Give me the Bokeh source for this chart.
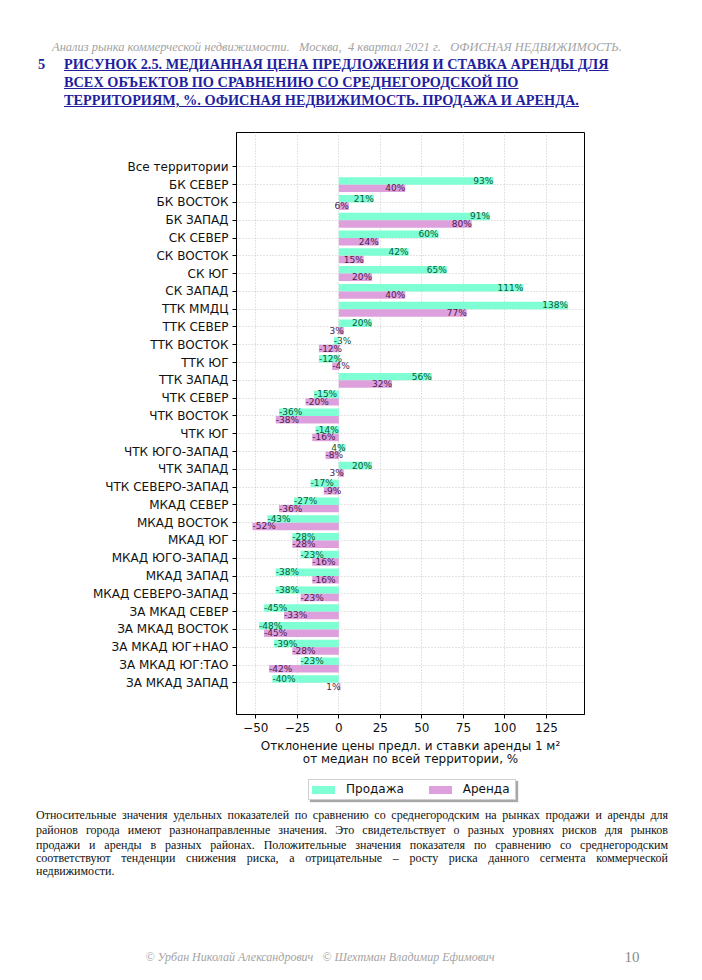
import math
from bokeh.plotting import figure
from bokeh.models import (ColumnDataSource, Range1d, FixedTicker, Div)
from bokeh.layouts import column
from bokeh.transform import dodge
from bokeh.embed import file_html
from bokeh.resources import INLINE
from bokeh.core.properties import value

NaN = float("nan")

categories = [
    "Все территории", "БК СЕВЕР", "БК ВОСТОК", "БК ЗАПАД", "СК СЕВЕР", "СК ВОСТОК",
    "СК ЮГ", "СК ЗАПАД", "ТТК ММДЦ", "ТТК СЕВЕР", "ТТК ВОСТОК", "ТТК ЮГ",
    "ТТК ЗАПАД", "ЧТК СЕВЕР", "ЧТК ВОСТОК", "ЧТК ЮГ", "ЧТК ЮГО-ЗАПАД", "ЧТК ЗАПАД",
    "ЧТК СЕВЕРО-ЗАПАД", "МКАД СЕВЕР", "МКАД ВОСТОК", "МКАД ЮГ", "МКАД ЮГО-ЗАПАД",
    "МКАД ЗАПАД", "МКАД СЕВЕРО-ЗАПАД", "ЗА МКАД СЕВЕР", "ЗА МКАД ВОСТОК",
    "ЗА МКАД ЮГ+НАО", "ЗА МКАД ЮГ:ТАО", "ЗА МКАД ЗАПАД",
]
sale = [NaN, 93, 21, 91, 60, 42, 65, 111, 138, 20, -3, -12, 56, -15, -36, -14, 4, 20,
        -17, -27, -43, -28, -23, -38, -38, -45, -48, -39, -23, -40]
rent = [NaN, 40, 6, 80, 24, 15, 20, 40, 77, 3, -12, -4, 32, -20, -38, -16, -8, 3,
        -9, -36, -52, -28, -16, -16, -23, -33, -45, -28, -42, 1]
x_ticks = [-50, -25, 0, 25, 50, 75, 100, 125]

series_names = ["Продажа", "Аренда"]
bar_colors = ["#7fffd4", "#dda0dd"]
label_colors = ["#0a5a3a", "#4e1a4e"]

axis_title = "Отклонение цены предл. и ставки аренды 1 м²\nот медиан по всей территории, %"
header_line = "Анализ рынка коммерческой недвижимости.   Москва,  4 квартал 2021 г.   ОФИСНАЯ НЕДВИЖИМОСТЬ."
title_lines = [
    "РИСУНОК 2.5. МЕДИАННАЯ ЦЕНА ПРЕДЛОЖЕНИЯ И СТАВКА АРЕНДЫ ДЛЯ",
    "ВСЕХ ОБЪЕКТОВ ПО СРАВНЕНИЮ СО СРЕДНЕГОРОДСКОЙ ПО",
    "ТЕРРИТОРИЯМ, %. ОФИСНАЯ НЕДВИЖИМОСТЬ. ПРОДАЖА И АРЕНДА.",
]
para_lines = [
    "Относительные значения удельных показателей по сравнению со среднегородским на рынках продажи и аренды для",
    "районов города имеют разнонаправленные значения. Это свидетельствует о разных уровнях рисков для рынков",
    "продажи и аренды в разных районах. Положительные значения показателя по сравнению со среднегородским",
    "соответствуют тенденции снижения риска, а отрицательные – росту риска данного сегмента коммерческой",
    "недвижимости.",
]
footer_authors = "© Урбан Николай Александрович   © Шехтман Владимир Ефимович"
page_number = "10"

SANS = "DejaVu Sans"
SERIF = "Liberation Serif"

idx = list(range(len(categories)))
src = ColumnDataSource(dict(y=idx, sale=sale, rent=rent))

# ---- page geometry (page pixels) ----
HEADER_H = 118
FRAME_L, FRAME_T, FRAME_W, FRAME_H = 236, 132, 348, 582
BOTTOM_B = 56
FIG_BOTTOM = FRAME_T + FRAME_H + BOTTOM_B      # page y where the figure ends
PAGE_H = 976

p = figure(frame_width=FRAME_W, frame_height=FRAME_H,
           x_range=Range1d(-61.6, 147.9), y_range=Range1d(30.78, -1.93),
           output_backend="svg", toolbar_location=None,
           min_border_left=FRAME_L, min_border_right=702 - FRAME_L - FRAME_W,
           min_border_top=FRAME_T - HEADER_H, min_border_bottom=BOTTOM_B)
p.outline_line_color = "black"
p.outline_line_width = 1
p.outline_line_alpha = 1

p.xgrid.grid_line_color = "#c8c8c8"
p.xgrid.grid_line_dash = "1 2"
p.ygrid.grid_line_color = "#c8c8c8"
p.ygrid.grid_line_dash = "1 2"

p.xaxis.ticker = FixedTicker(ticks=x_ticks)
p.xaxis.major_label_overrides = {t: (("\u2212" + str(-t)) if t < 0 else str(t)) for t in x_ticks}
p.yaxis.ticker = FixedTicker(ticks=idx)
p.yaxis.major_label_overrides = {i: c for i, c in enumerate(categories)}
for ax in (p.xaxis[0], p.yaxis[0]):
    ax.axis_line_color = "black"
    ax.major_tick_line_color = "black"
    ax.major_tick_in = 0
    ax.major_tick_out = 4
    ax.minor_tick_line_color = None
    ax.major_label_text_font = SANS
    ax.major_label_text_font_size = "12px"
    ax.major_label_text_color = "#111111"
    ax.major_label_standoff = 4
p.xaxis.axis_label = axis_title
p.xaxis.axis_label_text_font = SANS
p.xaxis.axis_label_text_font_size = "12px"
p.xaxis.axis_label_text_font_style = "normal"
p.xaxis.axis_label_text_color = "#111111"
p.xaxis.axis_label_text_line_height = 0.95
p.xaxis.axis_label_standoff = 4
p.xaxis.axis_label_text_align = "center"

BAR_H = 0.42
r_sale = p.hbar(y=dodge("y", -BAR_H / 2), left=0, right="sale", height=BAR_H, source=src,
                fill_color=bar_colors[0], line_color=None)
r_rent = p.hbar(y=dodge("y", BAR_H / 2), left=0, right="rent", height=BAR_H, source=src,
                fill_color=bar_colors[1], line_color=None)

for vals, off, col in ((sale, -BAR_H / 2, label_colors[0]), (rent, BAR_H / 2, label_colors[1])):
    for sign, align in ((1, "right"), (-1, "left")):
        xs, ys, ts = [], [], []
        for i, v in enumerate(vals):
            if isinstance(v, float) and math.isnan(v):
                continue
            if (v >= 0) == (sign > 0):
                xs.append(v)
                ys.append(i)
                ts.append(f"{v:.0f}%")
        ls = ColumnDataSource(dict(x=xs, y=ys, t=ts))
        p.text(x="x", y=dodge("y", off), text="t", source=ls, text_align=align,
               text_baseline="middle", text_font=value(SANS), text_font_size="9px",
               text_color=col)

# ---------------- header ----------------
header_html = f"""
<div style="position:relative;width:702px;height:{HEADER_H}px;font-family:'{SERIF}',serif;">
<div style="position:absolute;left:52px;top:40px;font-size:12.5px;line-height:15px;font-style:italic;color:#a3a3a3;white-space:pre;">{header_line}</div>
<div style="position:absolute;left:38px;top:55px;font-size:14.3px;font-weight:bold;color:#1f1f9f;line-height:18px;">5</div>
<div style="position:absolute;left:64px;top:55px;font-size:14.3px;font-weight:bold;color:#1f1f9f;line-height:18px;text-decoration:underline;white-space:nowrap;">{'<br>'.join(title_lines)}</div>
</div>"""
header = Div(text=header_html, width=702, height=HEADER_H, margin=(0, 0, 0, 0))

# ---------------- legend + paragraph + footer ----------------
B = FIG_BOTTOM


def box(left, top, inner, style=""):
    return f'<div style="position:absolute;left:{left}px;top:{top - B}px;{style}">{inner}</div>'


legend_items = "".join(
    f'<span style="display:inline-block;width:23px;height:8px;background:{c};margin:0 11px 0 0;vertical-align:middle;"></span>'
    f'<span style="vertical-align:middle;margin-right:{m}px;">{n}</span>'
    for n, c, m in zip(series_names, bar_colors, (25, 0))
)
legend_html = box(308, 779, legend_items,
                  f"width:203px;height:19px;line-height:19px;border:1px solid #cfcfcf;background:#fff;"
                  f"box-shadow:2px 2px 1px #a8a8a8;font-family:'{SANS}';font-size:12px;color:#111;"
                  f"padding-left:3px;box-sizing:content-box;white-space:nowrap;")

para_html = ""
para_tops = [808, 823, 838, 851, 864]
for k, line in enumerate(para_lines):
    last = k == len(para_lines) - 1
    align = "text-align:left;" if last else "text-align:justify;text-align-last:justify;"
    para_html += box(36, para_tops[k], line,
                     f"width:632px;line-height:14px;font-size:12px;color:#111;{align}")

footer_html = box(0, 949, footer_authors,
                  "width:640px;text-align:center;font-size:12px;line-height:16px;font-style:italic;color:#a3a3a3;white-space:pre;")
footer_html += box(612, 949, page_number,
                   "width:40px;text-align:center;font-size:15px;line-height:16px;color:#8a8a8a;")

bottom_html = (f'<div style="position:relative;width:702px;height:{PAGE_H - B}px;'
               f'font-family:\'{SERIF}\',serif;">' + legend_html + para_html + footer_html + "</div>")
bottom = Div(text=bottom_html, width=702, height=PAGE_H - B, margin=(0, 0, 0, 0))

layout = column(header, p, bottom, spacing=0)

open("out.html", "w").write(file_html(layout, INLINE))
